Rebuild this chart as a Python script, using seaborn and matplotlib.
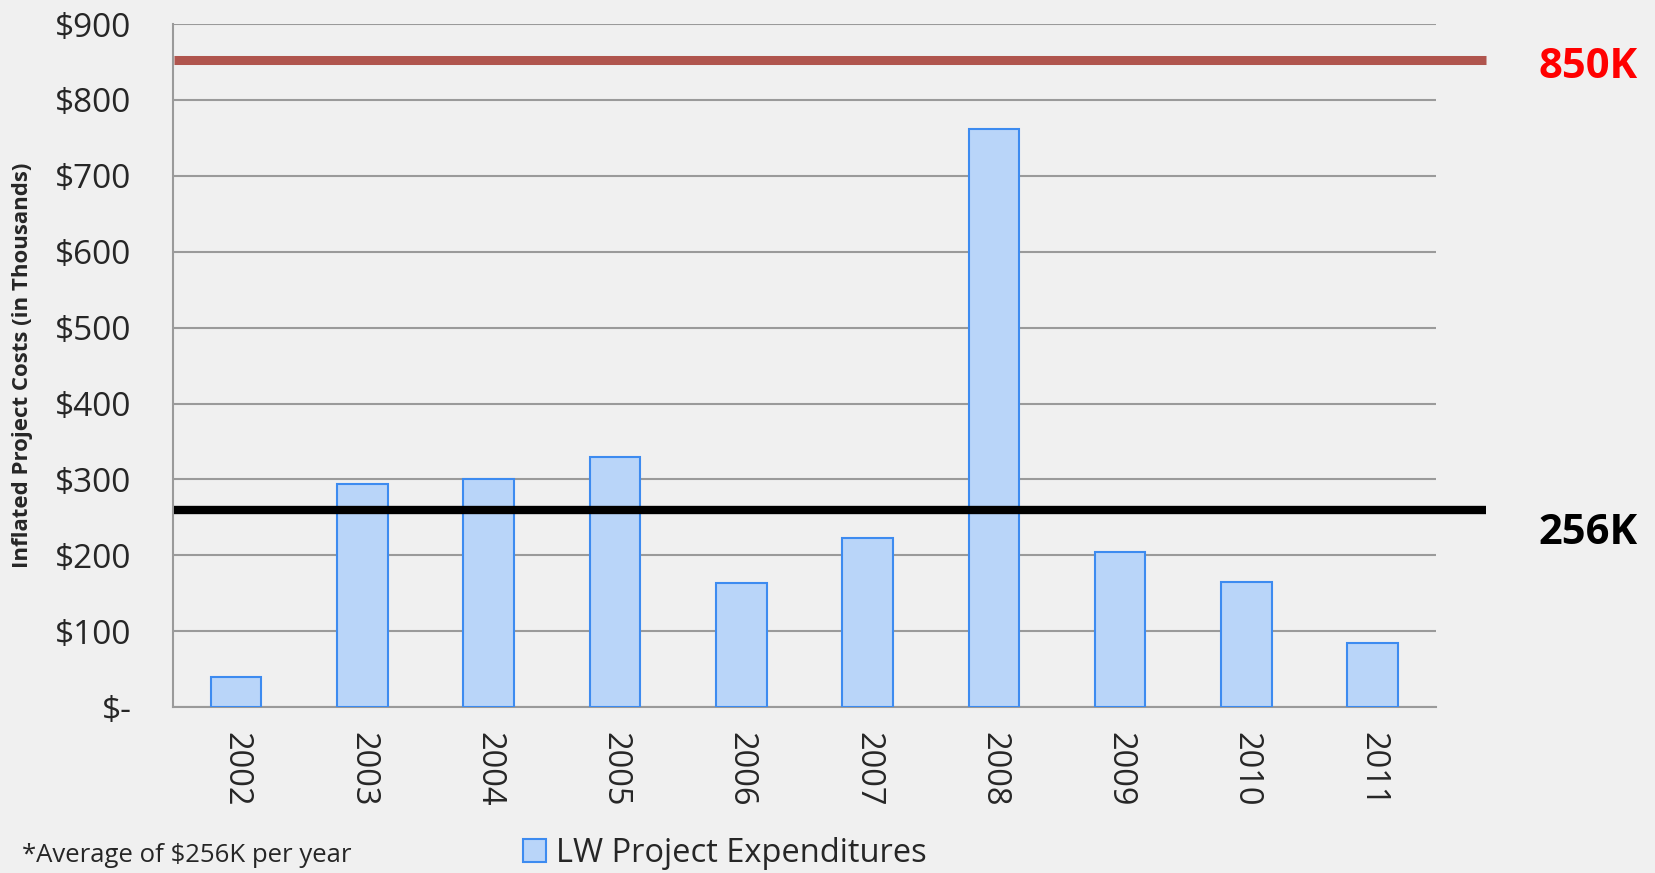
import numpy as np
import pandas as pd
import matplotlib
matplotlib.use("Agg")
import matplotlib.pyplot as plt
import seaborn as sns
from matplotlib.patches import Patch

years = ["2002", "2003", "2004", "2005", "2006", "2007", "2008", "2009", "2010", "2011"]
costs = [40, 294, 301, 329, 163, 223, 762, 205, 165, 84]
y_ticks = [0, 100, 200, 300, 400, 500, 600, 700, 800, 900]
y_labels = ["$-", "$100", "$200", "$300", "$400", "$500", "$600", "$700", "$800", "$900"]
cap_line = 852
avg_line = 260

BG = "#f0f0f0"
GRID = "#9a9a9a"
BAR_FACE = "#b9d5f9"
BAR_EDGE = "#3d8bf0"

sns.set_theme(style="white")
plt.rcParams["font.family"] = ["Open Sans", "DejaVu Sans"]

df = pd.DataFrame({"year": years, "cost": costs})

fig = plt.figure(figsize=(16.56, 8.73), dpi=100, facecolor=BG)
ax = fig.add_axes([0.1045, 0.19, 0.7625, 0.7825])
ax.set_facecolor(BG)

sns.barplot(data=df, x="year", y="cost", ax=ax, width=0.4,
            color=BAR_FACE, edgecolor=BAR_EDGE, linewidth=1.5, saturation=1, zorder=3)

ax.set_ylim(0, 900)
ax.set_xlim(-0.5, len(years) - 0.5)
ax.set_yticks(y_ticks)
ax.set_yticklabels(y_labels, fontsize=24)
ax.set_xticks(range(len(years)))
ax.set_xticklabels(years, rotation=-90, fontsize=23.5)
ax.set_xticks(np.arange(-0.5, len(years)), minor=True)
ax.tick_params(axis="x", which="major", length=0, pad=18)
ax.tick_params(axis="x", which="minor", length=10, width=1.5, color=GRID, direction="out")
ax.tick_params(axis="y", length=11, width=1.5, color=GRID, direction="out", pad=19)
ax.yaxis.grid(True, color=GRID, linewidth=1.5, zorder=0)
ax.set_axisbelow(True)
for s in ["top", "right"]:
    ax.spines[s].set_visible(False)
for s in ["left", "bottom"]:
    ax.spines[s].set_color(GRID)
    ax.spines[s].set_linewidth(1.5)

ax.set_xlabel("")
ax.set_ylabel("")
fig.text(23 / 1656, 1 - 365 / 873, "Inflated Project Costs (in Thousands)", rotation=90,
         fontsize=16, fontweight="bold", ha="center", va="center")

# reference lines run past the plot area
ax.axhline(cap_line, xmin=0.001, xmax=1.04, color="#b0554e", linewidth=6.5,
           solid_capstyle="butt", clip_on=False, zorder=4)
ax.axhline(avg_line, xmin=0.001, xmax=1.04, color="black", linewidth=6,
           solid_capstyle="butt", clip_on=False, zorder=4)

fig.text(0.929, 1 - 67 / 873, "850K", color="#ff0000", fontsize=30, fontweight="bold", va="center")
fig.text(0.929, 1 - 533 / 873, "256K", color="black", fontsize=30, fontweight="bold", va="center")

fig.text(0.013, 1 - 855 / 873, "*Average of $256K per year", fontsize=18.5, va="center")

fig.legend(handles=[Patch(facecolor=BAR_FACE, edgecolor=BAR_EDGE, linewidth=1.5)],
           labels=["LW Project Expenditures"], loc="center left",
           bbox_to_anchor=(0.298, 1 - 853 / 873), frameon=False, fontsize=23.5,
           handlelength=0.7, handleheight=0.7, handletextpad=0.3)

fig.savefig("out.png", dpi=100, facecolor=BG)
